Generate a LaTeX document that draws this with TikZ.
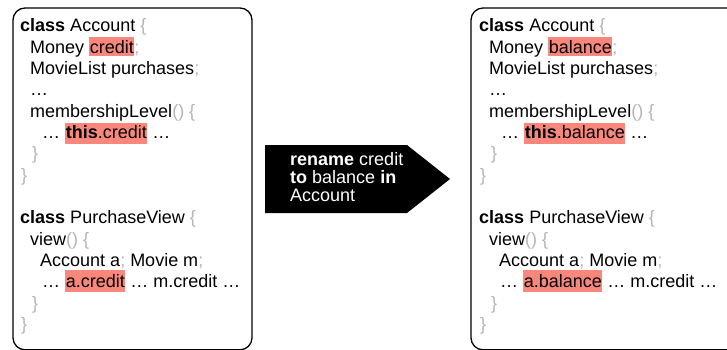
\documentclass[tikz,border=0pt]{standalone}
\usepackage{fontspec}
\setmainfont{Liberation Sans}
\definecolor{hlc}{HTML}{FA877C}
\definecolor{brc}{HTML}{B4B4B4}
\newcommand{\gr}[1]{\textcolor{brc}{#1}}
% \hlt{depth}{height}{text}
\newcommand{\hlt}[3]{{\setlength{\fboxsep}{0pt}\colorbox{hlc}{\rule[-#1pt]{0pt}{\dimexpr #1pt + #2pt\relax}\hspace{0.6pt}#3\hspace{0.6pt}}}}
\begin{document}
\begin{tikzpicture}[x=1pt,y=-1pt,
  code/.style={anchor=base west, inner sep=0pt, font=\fontsize{18}{21}\selectfont},
  cmdtext/.style={anchor=base west, inner sep=0pt, text=white, font=\fontsize{18}{18}\selectfont},
  frame/.style={draw=black, line width=1.3pt, rounded corners=12pt}]
\useasboundingbox (0,0) rectangle (727,349);
% left box
\draw[frame] (13,8) rectangle (252,349.8);
\node[code] (L1) at (20,31.7) {\textbf{class} Account \gr{\{}};
\node[code] (L2) at (30,53.1) {Money \hlt{3}{16}{credit}\gr{;}};
\node[code] (L3) at (30,74.4) {MovieList purchases\gr{;}};
\node[code] (L4) at (30,95.8) {…};
\node[code] (L5) at (30,117.1) {membershipLevel\gr{() \{}};
\node[code] (L6) at (42,138.5) {… \hlt{5.5}{15.5}{\textbf{this}.credit} …};
\node[code] (L7) at (32,159.8) {\gr{\}}};
\node[code] (L8) at (21,181.2) {\gr{\}}};
\node[code] (L10) at (20,223.9) {\textbf{class} PurchaseView \gr{\{}};
\node[code] (L11) at (30,245.2) {view\gr{() \{}};
\node[code] (L12) at (40,266.6) {Account a\gr{;} Movie m\gr{;}};
\node[code] (L13) at (42,287.1) {… \hlt{4.8}{16.7}{a.credit} … m.credit …};
\node[code] (L14) at (32,309.3) {\gr{\}}};
\node[code] (L15) at (21,330.6) {\gr{\}}};
% right box
\draw[frame] (471,8) rectangle (760,349.8);
\node[code] (R1) at (479,31.7) {\textbf{class} Account \gr{\{}};
\node[code] (R2) at (489,53.1) {Money \hlt{3}{16}{balance}\gr{;}};
\node[code] (R3) at (489,74.4) {MovieList purchases\gr{;}};
\node[code] (R4) at (489,95.8) {…};
\node[code] (R5) at (489,117.1) {membershipLevel\gr{() \{}};
\node[code] (R6) at (501,138.5) {… \hlt{5.5}{15.5}{\textbf{this}.balance} …};
\node[code] (R7) at (491,159.8) {\gr{\}}};
\node[code] (R8) at (480,181.2) {\gr{\}}};
\node[code] (R10) at (479,223.9) {\textbf{class} PurchaseView \gr{\{}};
\node[code] (R11) at (489,245.2) {view\gr{() \{}};
\node[code] (R12) at (499,266.6) {Account a\gr{;} Movie m\gr{;}};
\node[code] (R13) at (500,287.1) {… \hlt{4.8}{16.7}{a.balance} … m.credit …};
\node[code] (R14) at (491,309.3) {\gr{\}}};
\node[code] (R15) at (480,330.6) {\gr{\}}};
% arrow
\fill[black] (265,145) -- (407,145) -- (450,179) -- (407,213) -- (265,213) -- cycle;
\node[cmdtext] (C1) at (290,165) {\textbf{rename} credit};
\node[cmdtext] (C2) at (290,183.5) {\textbf{to} balance \textbf{in}};
\node[cmdtext] (C3) at (290,201.5) {Account};
\end{tikzpicture}
\end{document}
